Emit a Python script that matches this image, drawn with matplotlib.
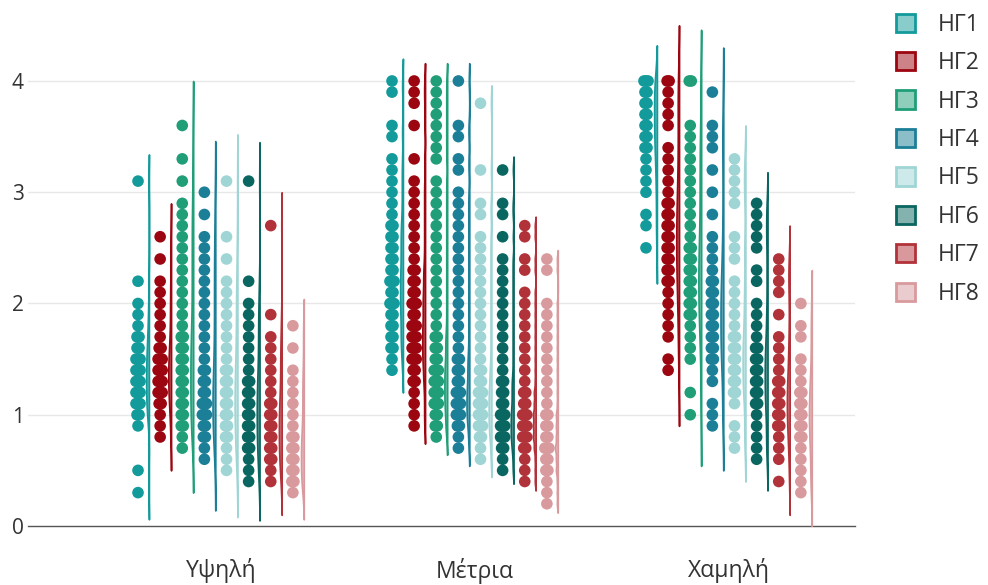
import numpy as np
import matplotlib.pyplot as plt
from matplotlib.patches import Patch
from matplotlib.colors import to_rgba

plt.rcParams['font.family'] = ['Open Sans', 'DejaVu Sans']

categories = ['Υψηλή', 'Μέτρια', 'Χαμηλή']
groups = ['ΗΓ1', 'ΗΓ2', 'ΗΓ3', 'ΗΓ4', 'ΗΓ5', 'ΗΓ6', 'ΗΓ7', 'ΗΓ8']
colors = ['#139a9a', '#9c0610', '#1f9e78', '#1b7f97',
          '#9fd5d4', '#0a6660', '#b2323a', '#d99a9e']

# Υψηλή
ypsili_hg1 = [0.3, 0.5, 0.9, 1.0, 1.0, 1.1, 1.1, 1.1, 1.2, 1.2, 1.2, 1.3, 1.3, 1.3, 1.4, 1.4, 1.4,
              1.5, 1.5, 1.5, 1.6, 1.6, 1.7, 1.7, 1.8, 1.9, 2.0, 2.2, 3.1]
ypsili_hg2 = [0.8, 0.9, 1.0, 1.1, 1.1, 1.2, 1.2, 1.2, 1.3, 1.3, 1.3, 1.4, 1.4, 1.4, 1.5, 1.5, 1.5,
              1.6, 1.6, 1.7, 1.8, 1.9, 2.0, 2.1, 2.2, 2.4, 2.6]
ypsili_hg3 = [0.7, 0.8, 0.9, 0.9, 1.0, 1.0, 1.1, 1.1, 1.2, 1.2, 1.3, 1.3, 1.4, 1.4, 1.5, 1.5,
              1.6, 1.6, 1.7, 1.7, 1.8, 1.9, 2.0, 2.1, 2.2, 2.3, 2.4, 2.5, 2.6, 2.7, 2.8, 2.9,
              3.1, 3.3, 3.6]
ypsili_hg4 = [0.6, 0.7, 0.8, 0.8, 0.9, 0.9, 1.0, 1.0, 1.0, 1.1, 1.1, 1.1, 1.2, 1.2, 1.3, 1.3,
              1.4, 1.4, 1.5, 1.6, 1.7, 1.8, 1.9, 2.0, 2.1, 2.2, 2.3, 2.4, 2.5, 2.6, 2.8, 3.0]
ypsili_hg5 = [0.5, 0.6, 0.7, 0.8, 0.8, 0.9, 0.9, 1.0, 1.0, 1.1, 1.1, 1.2, 1.2, 1.3, 1.3, 1.4, 1.4,
              1.5, 1.6, 1.7, 1.8, 1.9, 2.0, 2.1, 2.2, 2.4, 2.6, 3.1]
ypsili_hg6 = [0.4, 0.5, 0.6, 0.7, 0.7, 0.8, 0.8, 0.9, 0.9, 1.0, 1.0, 1.1, 1.1, 1.2, 1.2, 1.3, 1.3,
              1.4, 1.5, 1.6, 1.7, 1.8, 1.9, 2.0, 2.2, 3.1]
ypsili_hg7 = [0.4, 0.5, 0.6, 0.6, 0.7, 0.7, 0.8, 0.8, 0.9, 0.9, 1.0, 1.0, 1.1, 1.1, 1.2, 1.3,
              1.4, 1.5, 1.6, 1.7, 1.9, 2.7]
ypsili_hg8 = [0.3, 0.4, 0.4, 0.5, 0.5, 0.6, 0.6, 0.7, 0.7, 0.8, 0.8, 0.9, 1.0, 1.1, 1.2, 1.3,
              1.4, 1.6, 1.8]

# Μέτρια
metria_hg1 = [1.4, 1.5, 1.6, 1.6, 1.7, 1.7, 1.8, 1.8, 1.9, 1.9, 2.0, 2.0, 2.0, 2.1, 2.1, 2.2, 2.2,
              2.2, 2.3, 2.3, 2.4, 2.4, 2.5, 2.5, 2.6, 2.6, 2.7, 2.7, 2.8, 2.9, 3.0, 3.1, 3.2,
              3.3, 3.5, 3.6, 3.9, 4.0]
metria_hg2 = [0.9, 1.0, 1.1, 1.2, 1.3, 1.3, 1.4, 1.4, 1.5, 1.5, 1.5, 1.6, 1.6, 1.6, 1.7, 1.7, 1.7,
              1.8, 1.8, 1.8, 1.9, 1.9, 2.0, 2.0, 2.0, 2.1, 2.1, 2.2, 2.2, 2.3, 2.3, 2.4, 2.5,
              2.6, 2.7, 2.8, 2.9, 3.0, 3.1, 3.3, 3.6, 3.8, 3.9, 4.0]
metria_hg3 = [0.8, 0.9, 0.9, 1.0, 1.0, 1.1, 1.1, 1.1, 1.2, 1.2, 1.2, 1.3, 1.3, 1.3, 1.4, 1.4, 1.4,
              1.5, 1.5, 1.6, 1.6, 1.7, 1.7, 1.8, 1.9, 2.0, 2.1, 2.2, 2.3, 2.4, 2.5, 2.6, 2.7,
              2.8, 2.9, 3.0, 3.1, 3.3, 3.4, 3.5, 3.6, 3.7, 3.8, 3.9, 4.0]
metria_hg4 = [0.7, 0.8, 0.9, 0.9, 1.0, 1.0, 1.0, 1.1, 1.1, 1.1, 1.2, 1.2, 1.2, 1.3, 1.3, 1.4, 1.4,
              1.5, 1.5, 1.6, 1.7, 1.8, 1.9, 2.0, 2.1, 2.2, 2.3, 2.4, 2.5, 2.6, 2.7, 2.8, 2.9,
              3.0, 3.2, 3.3, 3.5, 3.6, 4.0]
metria_hg5 = [0.6, 0.7, 0.8, 0.8, 0.9, 0.9, 0.9, 1.0, 1.0, 1.0, 1.1, 1.1, 1.1, 1.2, 1.2, 1.2, 1.3,
              1.3, 1.4, 1.4, 1.5, 1.6, 1.7, 1.8, 1.9, 2.0, 2.1, 2.2, 2.3, 2.4, 2.5, 2.6, 2.8,
              2.9, 3.2, 3.8]
metria_hg6 = [0.5, 0.6, 0.7, 0.7, 0.8, 0.8, 0.8, 0.9, 0.9, 0.9, 1.0, 1.0, 1.0, 1.1, 1.1, 1.2, 1.2,
              1.3, 1.3, 1.4, 1.5, 1.6, 1.7, 1.8, 1.9, 2.0, 2.1, 2.2, 2.3, 2.4, 2.6, 2.8, 2.9, 3.2]
metria_hg7 = [0.4, 0.5, 0.6, 0.7, 0.7, 0.8, 0.8, 0.8, 0.9, 0.9, 0.9, 1.0, 1.0, 1.0, 1.1, 1.1, 1.2,
              1.2, 1.3, 1.4, 1.5, 1.6, 1.7, 1.8, 1.9, 2.0, 2.1, 2.3, 2.4, 2.6, 2.7]
metria_hg8 = [0.2, 0.3, 0.4, 0.5, 0.5, 0.6, 0.6, 0.7, 0.7, 0.7, 0.8, 0.8, 0.9, 0.9, 1.0, 1.0, 1.1,
              1.2, 1.3, 1.4, 1.5, 1.6, 1.7, 1.8, 1.9, 2.0, 2.3, 2.4]

# Χαμηλή
xamili_hg1 = [2.5, 2.7, 2.8, 3.0, 3.1, 3.2, 3.3, 3.4, 3.4, 3.5, 3.5, 3.6, 3.6, 3.7, 3.7, 3.8, 3.8,
              3.9, 3.9, 4.0, 4.0, 4.0]
xamili_hg2 = [1.4, 1.5, 1.7, 1.8, 1.9, 2.0, 2.1, 2.2, 2.2, 2.3, 2.3, 2.4, 2.4, 2.5, 2.5, 2.6, 2.6,
              2.7, 2.7, 2.8, 2.8, 2.9, 2.9, 3.0, 3.1, 3.2, 3.3, 3.4, 3.6, 3.7, 3.8, 3.9, 4.0, 4.0]
xamili_hg3 = [1.0, 1.2, 1.5, 1.6, 1.7, 1.8, 1.9, 1.9, 2.0, 2.0, 2.1, 2.1, 2.2, 2.2, 2.3, 2.3, 2.4,
              2.4, 2.5, 2.5, 2.6, 2.7, 2.8, 2.9, 3.0, 3.1, 3.2, 3.3, 3.4, 3.5, 3.6, 4.0, 4.0]
xamili_hg4 = [0.9, 1.0, 1.1, 1.3, 1.4, 1.5, 1.5, 1.6, 1.6, 1.7, 1.7, 1.8, 1.8, 1.9, 1.9, 2.0, 2.0,
              2.1, 2.1, 2.2, 2.2, 2.3, 2.4, 2.5, 2.6, 2.8, 3.0, 3.2, 3.4, 3.5, 3.6, 3.9]
xamili_hg5 = [0.7, 0.8, 0.9, 1.1, 1.2, 1.2, 1.3, 1.3, 1.4, 1.4, 1.5, 1.5, 1.6, 1.6, 1.7, 1.7, 1.8,
              1.9, 2.0, 2.1, 2.2, 2.4, 2.5, 2.6, 2.9, 3.0, 3.1, 3.2, 3.3]
xamili_hg6 = [0.6, 0.7, 0.8, 0.9, 1.0, 1.1, 1.1, 1.2, 1.2, 1.3, 1.3, 1.4, 1.4, 1.5, 1.5, 1.6, 1.6,
              1.7, 1.8, 1.9, 2.0, 2.2, 2.3, 2.5, 2.6, 2.7, 2.8, 2.9]
xamili_hg7 = [0.4, 0.6, 0.7, 0.8, 0.9, 0.9, 1.0, 1.0, 1.1, 1.1, 1.2, 1.2, 1.3, 1.3, 1.4, 1.5, 1.6,
              1.7, 1.9, 2.1, 2.2, 2.3, 2.4]
xamili_hg8 = [0.3, 0.4, 0.5, 0.6, 0.7, 0.8, 0.8, 0.9, 0.9, 1.0, 1.0, 1.1, 1.1, 1.2, 1.2, 1.3, 1.4,
              1.5, 1.7, 1.8, 2.0]

# kde bandwidths
bw_ypsili = [0.12, 0.15, 0.20, 0.23, 0.21, 0.175, 0.15, 0.12]
bw_metria = [0.10, 0.08, 0.08, 0.08, 0.08, 0.06, 0.04, 0.04]
bw_xamili = [0.16, 0.25, 0.23, 0.20, 0.15, 0.14, 0.15, 0.15]

data = [
    [ypsili_hg1, ypsili_hg2, ypsili_hg3, ypsili_hg4, ypsili_hg5, ypsili_hg6, ypsili_hg7, ypsili_hg8],
    [metria_hg1, metria_hg2, metria_hg3, metria_hg4, metria_hg5, metria_hg6, metria_hg7, metria_hg8],
    [xamili_hg1, xamili_hg2, xamili_hg3, xamili_hg4, xamili_hg5, xamili_hg6, xamili_hg7, xamili_hg8],
]
bws = [bw_ypsili, bw_metria, bw_xamili]

fig = plt.figure(figsize=(9.88, 5.85), dpi=100)
ax = fig.add_axes([28 / 988, 59 / 585, 827 / 988, 516 / 585])

step = 0.0871
dot_shift = -0.022
line_gap = 0.043
max_w = 0.011
jit = 0.008

for ci, cat_data in enumerate(data):
    for gi, vals in enumerate(cat_data):
        c = colors[gi]
        x0 = ci + dot_shift + (gi - 3.5) * step
        vals = np.array(vals)
        # dots: repeated values spread a little sideways
        xs, ys = [], []
        for v in np.unique(vals):
            n = np.sum(np.isclose(vals, v))
            for k in range(n):
                xs.append(x0 + (k - (n - 1) / 2) * jit)
                ys.append(v)
        ax.scatter(xs, ys, s=70, color=c, edgecolors='none', zorder=3)

        # narrow half violin on the left side of a vertical line
        bw = bws[ci][gi]
        yy = np.linspace(vals.min() - 2 * bw, vals.max() + 2 * bw, 400)
        dens = np.exp(-0.5 * ((yy[:, None] - vals[None, :]) / bw) ** 2).sum(axis=1)
        w = dens / dens.max() * max_w
        xl = x0 + line_gap
        ax.fill_betweenx(yy, xl - w, xl, facecolor=to_rgba(c, 0.7),
                         edgecolor=c, linewidth=1.2, zorder=4)

ax.set_xlim(-0.76, 2.496)
ax.set_ylim(0, 4.638)
ax.set_xticks(range(len(categories)))
ax.set_xticklabels(categories)
ax.set_yticks([0, 1, 2, 3, 4])
ax.tick_params(axis='x', length=0, pad=23, labelsize=16.5, labelcolor='#333333')
ax.tick_params(axis='y', length=0, pad=3, labelsize=15, labelcolor='#333333')
for y in [1, 2, 3, 4]:
    ax.axhline(y, color='#e8e8e8', linewidth=1, zorder=0)
for s in ['top', 'right', 'left']:
    ax.spines[s].set_visible(False)
ax.spines['bottom'].set_color('#555555')
ax.spines['bottom'].set_linewidth(1)

handles = [Patch(facecolor=to_rgba(c, 0.5), edgecolor=c, linewidth=2) for c in colors]
fig.legend(handles, groups, loc='upper left', bbox_to_anchor=(875 / 988, 1 + 8 / 585),
           frameon=False, fontsize=16.5, handlelength=0.85, handleheight=0.85,
           handletextpad=1.0, labelspacing=0.63, labelcolor='#333333')

fig.savefig('out.png', dpi=100)
